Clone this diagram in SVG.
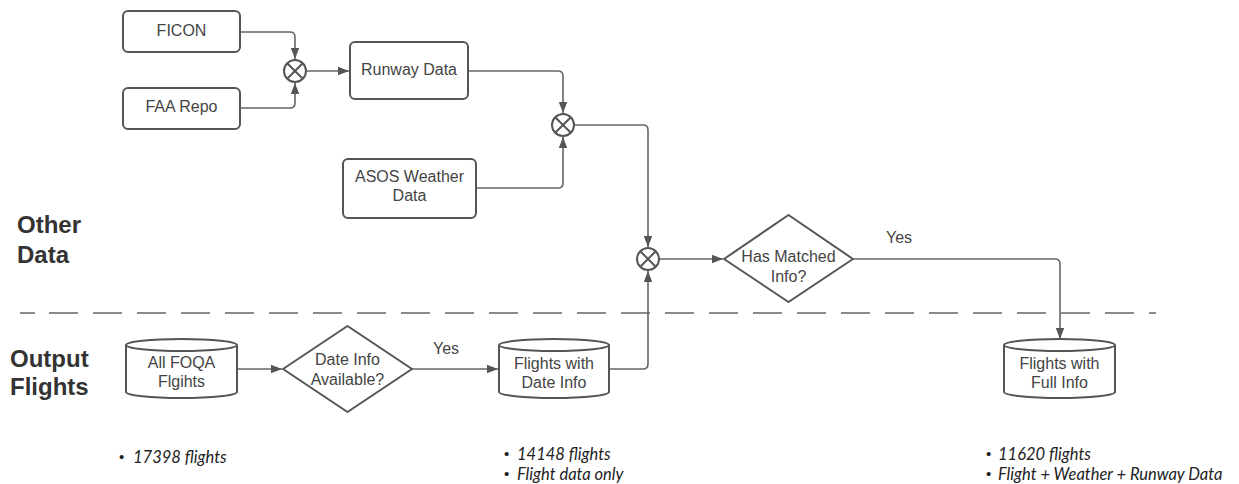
<svg xmlns="http://www.w3.org/2000/svg" width="1239" height="484" viewBox="0 0 1239 484">
<defs>
<marker id="arr" markerUnits="userSpaceOnUse" markerWidth="12" markerHeight="10" refX="11" refY="5" orient="auto">
<path d="M0,0.8 L11,5 L0,9.2 z" fill="#555"/>
</marker>
<style>
.box{fill:#fff;stroke:#555;stroke-width:2}
.j{fill:#fff;stroke:#555;stroke-width:2}
.c{fill:none;stroke:#666;stroke-width:1.6;marker-end:url(#arr)}
.t{font-family:"Liberation Sans",Arial,sans-serif;font-size:16px;fill:#444;text-anchor:middle}
.h{font-family:"Liberation Sans",Arial,sans-serif;font-size:24px;font-weight:bold;fill:#333}
.b{font-family:Lato,"Open Sans",sans-serif;font-size:16.5px;font-style:italic;fill:#222}
.bu{font-family:"Liberation Sans",Arial,sans-serif;font-size:15px;fill:#222}
</style>
</defs>
<rect width="1239" height="484" fill="#fff"/>
<g id="labels">
<text class="h" x="17" y="233">Other</text>
<text class="h" x="17" y="263">Data</text>
<text class="h" x="10" y="367">Output</text>
<text class="h" x="10" y="395">Flights</text>
</g>
<line id="divider" x1="20" y1="313" x2="1156" y2="313" stroke="#666" stroke-width="1.6" stroke-dasharray="15 14 29 15 29 15 29 15 29 15 29 15 29 15 29 15 29 15 29 15 29 15 29 15 29 15 29 15 29 15 29 15 29 15 29 15 29 15 29 15 29 15 29 15 29 15 29 15 29 15 29 15 29 15 29 15 29 15 29 15 29 15 29 15 29 15 29 15 29 15 29 15 29 15 29 15 29 15 29 15 29 15 29 15"/>
<g id="connectors">
<path class="c" d="M240,32 H290 Q295,32 295,37 V59"/>
<path class="c" d="M240,108 H290 Q295,108 295,103 V83"/>
<path class="c" d="M306,71 H349"/>
<path class="c" d="M468,71 H558 Q563,71 563,76 V113"/>
<path class="c" d="M476,188 H558 Q563,188 563,183 V137"/>
<path class="c" d="M574,125 H643 Q648,125 648,130 V247"/>
<path class="c" d="M609,369 H643 Q648,369 648,364 V271"/>
<path class="c" d="M659,259 H723"/>
<path class="c" d="M853,259 H1055 Q1060,259 1060,264 V339"/>
<path class="c" d="M237,369 H282"/>
<path class="c" d="M412,369 H498"/>
<text class="t" x="899" y="243">Yes</text>
<text class="t" x="446" y="354">Yes</text>
</g>
<g id="ficon">
<rect class="box" x="123" y="11" width="117" height="41" rx="5"/>
<text class="t" x="181.5" y="36">FICON</text>
</g>
<g id="faa">
<rect class="box" x="123" y="88" width="117" height="41" rx="5"/>
<text class="t" x="181.5" y="112">FAA Repo</text>
</g>
<g id="j1">
<circle class="j" cx="295" cy="71" r="11"/>
<path d="M287.2,63.2 L302.8,78.8 M302.8,63.2 L287.2,78.8" stroke="#555" stroke-width="2"/>
</g>
<g id="runway">
<rect class="box" x="350" y="42" width="118" height="57" rx="5"/>
<text class="t" x="409" y="75">Runway Data</text>
</g>
<g id="j2">
<circle class="j" cx="563" cy="125" r="11"/>
<path d="M555.2,117.2 L570.8,132.8 M570.8,117.2 L555.2,132.8" stroke="#555" stroke-width="2"/>
</g>
<g id="asos">
<rect class="box" x="343" y="159" width="133" height="59" rx="5"/>
<text class="t" x="409.5" y="182">ASOS Weather</text>
<text class="t" x="409.5" y="201">Data</text>
</g>
<g id="j3">
<circle class="j" cx="648" cy="259" r="11"/>
<path d="M640.2,251.2 L655.8,266.8 M655.8,251.2 L640.2,266.8" stroke="#555" stroke-width="2"/>
</g>
<g id="matched">
<polygon class="box" points="724,259 788.5,215 853,259 788.5,302" stroke-linejoin="round"/>
<text class="t" x="788.5" y="262">Has Matched</text>
<text class="t" x="788.5" y="282">Info?</text>
</g>
<g id="allfoqa">
<path class="box" d="M126,345 A55.5,6 0 0 1 237,345 V392 A55.5,6 0 0 1 126,392 Z"/>
<path d="M126,345 A55.5,6 0 0 0 237,345" fill="none" stroke="#555" stroke-width="2"/>
<text class="t" x="181.5" y="368">All FOQA</text>
<text class="t" x="181.5" y="387">Flgihts</text>
</g>
<g id="dateinfo">
<polygon class="box" points="283,369 347.5,326 412,369 347.5,412" stroke-linejoin="round"/>
<text class="t" x="347.5" y="365">Date Info</text>
<text class="t" x="347.5" y="385">Available?</text>
</g>
<g id="datef">
<path class="box" d="M499,345 A55,6 0 0 1 609,345 V392 A55,6 0 0 1 499,392 Z"/>
<path d="M499,345 A55,6 0 0 0 609,345" fill="none" stroke="#555" stroke-width="2"/>
<text class="t" x="554" y="369">Flights with</text>
<text class="t" x="554" y="388">Date Info</text>
</g>
<g id="fullf">
<path class="box" d="M1004,345 A55.5,6 0 0 1 1115,345 V392 A55.5,6 0 0 1 1004,392 Z"/>
<path d="M1004,345 A55.5,6 0 0 0 1115,345" fill="none" stroke="#555" stroke-width="2"/>
<text class="t" x="1059.5" y="369">Flights with</text>
<text class="t" x="1059.5" y="388">Full Info</text>
</g>
<g id="notes">
<text class="bu" x="119" y="462">•</text>
<text class="b" x="133" y="463">17398 flights</text>
<text class="bu" x="504" y="459">•</text>
<text class="b" x="517" y="460">14148 flights</text>
<text class="bu" x="504" y="479">•</text>
<text class="b" x="517" y="480">Flight data only</text>
<text class="bu" x="986" y="459">•</text>
<text class="b" x="998" y="460">11620 flights</text>
<text class="bu" x="986" y="479">•</text>
<text class="b" x="998" y="480">Flight + Weather + Runway Data</text>
</g>
</svg>
